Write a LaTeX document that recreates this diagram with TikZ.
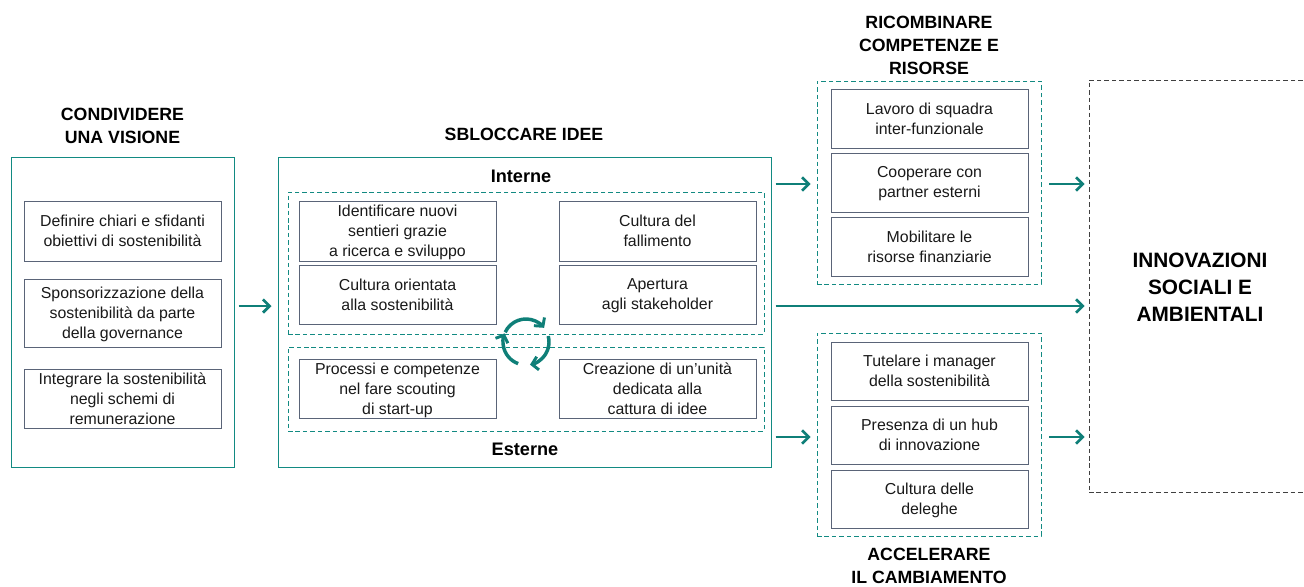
\documentclass[tikz,border=0pt]{standalone}
\usepackage{fontspec}
\setmainfont{Liberation Sans}
\usetikzlibrary{arrows.meta}
\definecolor{teal1}{HTML}{0F7F78}
\definecolor{teal2}{HTML}{128A82}
\definecolor{slate}{HTML}{5A6478}
\tikzset{
  x=0.75pt,y=-0.75pt,
  box/.style={draw,inner sep=0pt},
  lab/.style={inner sep=0pt,align=center,text=black!90,yshift=-1.1pt,
      font=\fontsize{11.9}{15}\selectfont,
      execute at begin node={\vphantom{Ag}},execute at end node={\vphantom{Ag}}},
  outlab/.style={yshift=-1.4pt,text=black,font=\bfseries\fontsize{15.6}{20}\selectfont},
  solidbox/.style={box,draw=teal2,line width=0.75pt},
  dashbox/.style={box,draw=teal2,line width=0.7pt,dash pattern=on 3.4pt off 2.2pt},
  inbox/.style={box,draw=slate,line width=0.65pt},
  outbox/.style={box,draw=black!75,line width=0.65pt,dash pattern=on 3.4pt off 2.2pt},
  head/.style={align=center,inner sep=0pt,font=\bfseries\fontsize{13.3}{17.2}\selectfont,text=black},
  sub/.style={align=center,inner sep=0pt,font=\bfseries\fontsize{13.6}{15}\selectfont,text=black},
  arr/.style={draw=teal1,line width=2pt,-{Straight Barb[length=5pt,width=10pt,line width=2pt]}},
  cyc/.style={draw=teal1,line width=2.6pt,-{Straight Barb[length=4.5pt,width=10pt,line width=2.2pt]}},
}
\newcommand{\bx}[7][]{%
  \pgfmathsetmacro{\cxv}{(#3+#5)/2}%
  \pgfmathsetmacro{\cyv}{(#4+#6)/2}%
  \pgfmathsetmacro{\wv}{(#5-#3)*0.75}%
  \pgfmathsetmacro{\hv}{(#6-#4)*0.75}%
  \node[#1,minimum width=\wv pt,minimum height=\hv pt,label={[lab]center:{#7}}] (#2) at (\cxv,\cyv) {};%
}
\newcommand{\fr}[6][]{%
  \pgfmathsetmacro{\cxv}{(#3+#5)/2}%
  \pgfmathsetmacro{\cyv}{(#4+#6)/2}%
  \pgfmathsetmacro{\wv}{(#5-#3)*0.75}%
  \pgfmathsetmacro{\hv}{(#6-#4)*0.75}%
  \node[#1,minimum width=\wv pt,minimum height=\hv pt] (#2) at (\cxv,\cyv) {};%
}
\begin{document}
\begin{tikzpicture}
\clip (0,0) rectangle (1304,586);
\useasboundingbox (0,0) rectangle (1304,586);
% headings
\node[head] (hcond) at (122.5,126) {CONDIVIDERE\\UNA VISIONE};
\node[head] (hsb) at (524,134) {SBLOCCARE IDEE};
\node[head] (hric) at (929,45) {RICOMBINARE\\COMPETENZE E\\RISORSE};
\node[head] (hacc) at (929,566) {ACCELERARE\\IL CAMBIAMENTO};
% left column
\fr[solidbox]{cond}{11}{157}{234}{467}
\bx[inbox]{c1}{24}{201}{221}{261}{Definire chiari e sfidanti\\obiettivi di sostenibilità}
\bx[inbox]{c2}{24}{279}{221}{347}{Sponsorizzazione della\\sostenibilità da parte\\della governance}
\bx[inbox]{c3}{24}{369}{221}{428}{Integrare la sostenibilità\\negli schemi di\\remunerazione}
% centre
\fr[solidbox]{sb}{278}{157}{771}{467}
\node[sub] (int) at (521,176) {Interne};
\node[sub] (est) at (525,449) {Esterne};
\fr[dashbox]{dint}{288}{192}{764}{334}
\fr[dashbox]{dest}{288}{347}{764}{431}
\bx[inbox]{s1}{299}{201}{496}{261}{Identificare nuovi\\sentieri grazie\\a ricerca e sviluppo}
\bx[inbox]{s2}{299}{265}{496}{324}{Cultura orientata\\alla sostenibilità}
\bx[inbox]{s3}{299}{359}{496}{418}{Processi e competenze\\nel fare scouting\\di start-up}
\bx[inbox]{s4}{559}{201}{756}{261}{Cultura del\\fallimento}
\bx[inbox]{s5}{559}{265}{756}{324}{Apertura\\agli stakeholder}
\bx[inbox]{s6}{559}{359}{756}{418}{Creazione di un’unità\\dedicata alla\\cattura di idee}
% cycle arrows
\coordinate (cy) at (526,342);
\draw[cyc] (cy) ++(205:23) arc[start angle=205,end angle=322,radius=23];
\draw[cyc] (cy) ++(345:23) arc[start angle=345,end angle=440,radius=23];
\draw[cyc] (cy) ++(110:23) arc[start angle=110,end angle=202,radius=23];
% right column
\fr[dashbox]{dric}{817}{81}{1041}{284}
\bx[inbox]{r1}{831}{89}{1028}{148}{Lavoro di squadra\\inter-funzionale}
\bx[inbox]{r2}{831}{153}{1028}{212}{Cooperare con\\partner esterni}
\bx[inbox]{r3}{831}{217}{1028}{276}{Mobilitare le\\risorse finanziarie}
\fr[dashbox]{dacc}{817}{333}{1041}{536}
\bx[inbox]{a1}{831}{342}{1028}{400}{Tutelare i manager\\della sostenibilità}
\bx[inbox]{a2}{831}{406}{1028}{464}{Presenza di un hub\\di innovazione}
\bx[inbox]{a3}{831}{470}{1028}{528}{Cultura delle\\deleghe}
\node[outbox,minimum width=166.5pt,minimum height=309pt,label={[lab,outlab]center:{INNOVAZIONI\\SOCIALI E\\AMBIENTALI}}] (inn) at (1200,286) {};
% connectors
\coordinate (ya) at (0,184);
\coordinate (yb) at (0,306);
\coordinate (yc) at (0,437);
\draw[arr,shorten <=3pt,shorten >=4.5pt] (cond.east |- yb) -- (sb.west |- yb);
\draw[arr,shorten <=3pt,shorten >=4.5pt] (sb.east |- ya) -- (dric.west |- ya);
\draw[arr,shorten <=6pt,shorten >=3pt] (dric.east |- ya) -- (inn.west |- ya);
\draw[arr,shorten <=3pt,shorten >=3pt] (sb.east |- yb) -- (inn.west |- yb);
\draw[arr,shorten <=3pt,shorten >=4.5pt] (sb.east |- yc) -- (dacc.west |- yc);
\draw[arr,shorten <=6pt,shorten >=3pt] (dacc.east |- yc) -- (inn.west |- yc);
\end{tikzpicture}
\end{document}
